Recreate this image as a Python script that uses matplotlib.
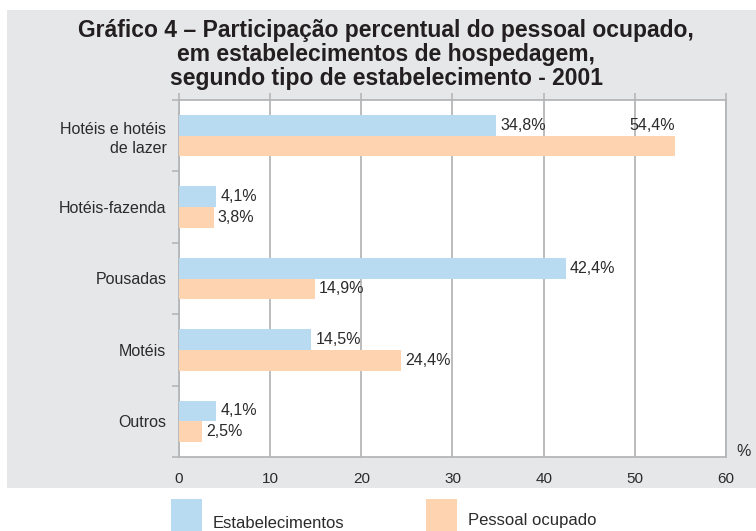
import numpy as np
import matplotlib
matplotlib.use("Agg")
import matplotlib.pyplot as plt
from matplotlib.patches import Rectangle

# ---- data ----
categorias = ["Hotéis e hotéis\nde lazer", "Hotéis-fazenda", "Pousadas", "Motéis", "Outros"]
estabelecimentos = [34.8, 4.1, 42.4, 14.5, 4.1]
pessoal_ocupado = [54.4, 3.8, 14.9, 24.4, 2.5]
series_nomes = ["Estabelecimentos", "Pessoal ocupado"]
x_ticks = [0, 10, 20, 30, 40, 50, 60]

cor_azul = "#b9dbf1"
cor_laranja = "#fdd3b0"
cor_fundo = "#e6e7e8"
cor_grade = "#b5b6b8"
cor_texto = "#2b2b2b"

fonte_titulo = ["Liberation Sans", "DejaVu Sans"]
fonte = ["Liberation Sans", "DejaVu Sans"]

W, H = 756, 531
fig = plt.figure(figsize=(W / 100, H / 100), dpi=100)
fig.patch.set_facecolor("white")

# gray panel behind title + chart
fig.patches.append(Rectangle((7 / W, 1 - 488 / H), 1 - 7 / W, (488 - 10) / H,
                             transform=fig.transFigure, facecolor=cor_fundo,
                             edgecolor="none", zorder=-5))

# title
linhas = ["Gráfico 4 – Participação percentual do pessoal ocupado,",
          "em estabelecimentos de hospedagem,",
          "segundo tipo de estabelecimento - 2001"]
for i, linha in enumerate(linhas):
    fig.text(386 / W, 1 - (37 + i * 24) / H, linha, ha="center", va="baseline",
             fontsize=16.5, fontweight="bold", family=fonte_titulo, color="#231f20")

ax = fig.add_axes([179 / W, 1 - 457 / H, (726 - 179) / W, (457 - 100) / H])
ax.set_facecolor("white")

n = len(categorias)
centros = np.arange(n) + 0.5
h = 0.29
y_azul = centros - h / 2
y_lar = centros + h / 2

ax.barh(y_azul, estabelecimentos, height=h, color=cor_azul, zorder=3, label=series_nomes[0])
ax.barh(y_lar, pessoal_ocupado, height=h, color=cor_laranja, zorder=3, label=series_nomes[1])

def fmt(v):
    return f"{v:.1f}%".replace(".", ",")

for yb, v in zip(y_azul, estabelecimentos):
    ax.text(v + 0.45, yb, fmt(v), va="center", ha="left", fontsize=11.5,
            family=fonte, color=cor_texto, zorder=4)
for yl, yb, v in zip(y_lar, y_azul, pessoal_ocupado):
    if v > 50:
        # label doesn't fit to the right -> put it above, right aligned
        ax.text(v, yb, fmt(v), va="center", ha="right", fontsize=11.5,
                family=fonte, color=cor_texto, zorder=4)
    else:
        ax.text(v + 0.45, yl, fmt(v), va="center", ha="left", fontsize=11.5,
                family=fonte, color=cor_texto, zorder=4)

ax.set_xlim(0, 60)
ax.set_ylim(n, 0)
ax.set_xticks(x_ticks)
ax.set_xticklabels([str(t) for t in x_ticks], family=fonte, fontsize=11, color=cor_texto)
ax.tick_params(axis="x", which="both", bottom=False, top=True, labelbottom=True,
               labeltop=False, direction="out", length=5, width=1.2, color=cor_grade, pad=6)

ax.set_yticks(np.arange(n + 1))
ax.set_yticklabels([])
ax.set_yticks(centros, minor=True)
ax.set_yticklabels(categorias, minor=True, family=fonte, fontsize=11.5, color=cor_texto,
                   ha="right", multialignment="right", linespacing=1.35)
ax.tick_params(axis="y", which="major", left=True, direction="out", length=5,
               width=1.2, color=cor_grade)
ax.tick_params(axis="y", which="minor", left=False, pad=7)

ax.grid(axis="x", color=cor_grade, linewidth=1.3, zorder=1)
for s in ax.spines.values():
    s.set_color(cor_grade)
    s.set_linewidth(1.3)

fig.text(744 / W, 1 - 451 / H, "%", ha="center", va="center", fontsize=11.5,
         family=fonte, color=cor_texto)

# legend, drawn by hand to match position
leg = [(171, cor_azul, series_nomes[0], 523), (426, cor_laranja, series_nomes[1], 520)]
for x0, c, nome, yt in leg:
    fig.patches.append(Rectangle((x0 / W, 0), 31 / W, 32 / H, transform=fig.transFigure,
                                 facecolor=c, edgecolor="none"))
    fig.text((x0 + 42) / W, 1 - yt / H, nome, ha="left", va="center", fontsize=12,
             family=fonte, color=cor_texto)

fig.savefig("out.png", dpi=100)
